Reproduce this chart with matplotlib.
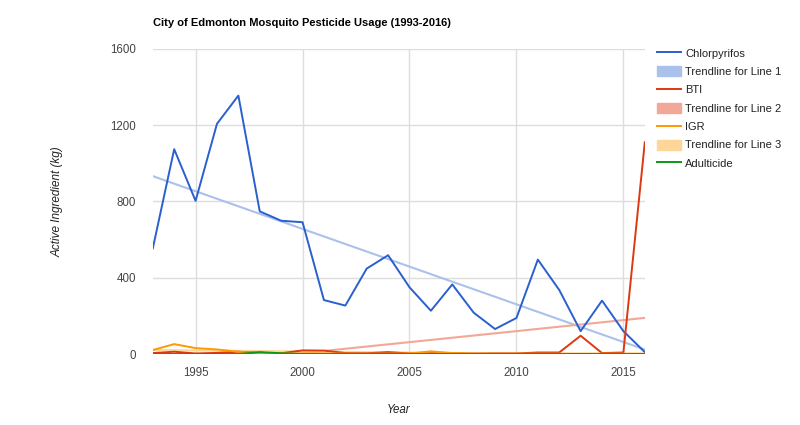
import matplotlib.pyplot as plt
import matplotlib.lines as mlines
import matplotlib.patches as mpatches
import numpy as np

plt.rcParams['font.family'] = ['Liberation Sans', 'DejaVu Sans']

# Data (kg of active ingredient per year)
years = list(range(1993, 2017))
chlorpyrifos = [554, 1074, 803, 1207, 1355, 748, 699, 691, 283, 254, 448, 518,
                350, 227, 365, 217, 131, 189, 495, 336, 120, 280, 120, 10]
bti = [5, 12, 3, 6, 12, 6, 4, 19, 18, 5, 4, 10,
       3, 4, 3, 2, 3, 3, 8, 8, 96, 5, 8, 1110]
igr = [21, 52, 31, 24, 12, 5, 3, 3, 3, 2, 2, 2,
       3, 14, 5, 2, 2, 2, 2, 2, 2, 2, 2, 2]
adulticide = [0, 0, 0, 0, 0, 10, 4, 0, 0, 0, 0, 0,
              0, 0, 0, 0, 0, 0, 0, 0, 0, 0, 0, 0]

series_names = ['Chlorpyrifos', 'BTI', 'IGR', 'Adulticide']
line_colors = ['#2a5fcf', '#dc3912', '#ff9900', '#109618']
trend_colors = ['#aac1ec', '#f1a896', '#ffd69a']
yticks = [0, 400, 800, 1200, 1600]
xticks = [1995, 2000, 2005, 2010, 2015]

fig = plt.figure(figsize=(8, 4.25), dpi=100)
ax = fig.add_axes([0.191, 0.167, 0.615, 0.718])

x = np.array(years)
all_series = [chlorpyrifos, bti, igr, adulticide]

# linear trendlines for the first three series
for vals, c in zip(all_series[:3], trend_colors):
    k, b = np.polyfit(x, vals, 1)
    ax.plot(x, k * x + b, color=c, lw=1.5, zorder=2)

for vals, c in zip(all_series, line_colors):
    ax.plot(x, vals, color=c, lw=1.4, zorder=3)

ax.set_xlim(1993, 2016)
ax.set_ylim(0, 1600)
ax.set_xticks(xticks)
ax.set_yticks(yticks)
ax.grid(True, color='#dddddd', lw=1)
ax.set_axisbelow(True)
ax.axhline(0, color='#333333', lw=1, zorder=1)
for s in ax.spines.values():
    s.set_visible(False)
ax.tick_params(length=0, labelsize=8.3, labelcolor='#444444')
ax.tick_params(axis='x', pad=9)
ax.tick_params(axis='y', pad=12)

ax.set_xlabel('Year', fontsize=8.3, style='italic', color='#222222', va='center')
ax.xaxis.set_label_coords(0.5, -(410 - 354) / 305)
ax.set_ylabel('Active Ingredient (kg)', fontsize=8.5, style='italic', color='#222222', va='center')
ax.yaxis.set_label_coords((58 - 153) / 492, 0.5)

fig.text(153 / 800, 1 - 23 / 425, 'City of Edmonton Mosquito Pesticide Usage (1993-2016)',
         fontsize=8.0, fontweight='bold', color='#000000', va='center', ha='left')

handles = [
    mlines.Line2D([], [], color=line_colors[0], lw=1.4),
    mpatches.Patch(color=trend_colors[0]),
    mlines.Line2D([], [], color=line_colors[1], lw=1.4),
    mpatches.Patch(color=trend_colors[1]),
    mlines.Line2D([], [], color=line_colors[2], lw=1.4),
    mpatches.Patch(color=trend_colors[2]),
    mlines.Line2D([], [], color=line_colors[3], lw=1.4),
]
labels = ['Chlorpyrifos', 'Trendline for Line 1', 'BTI', 'Trendline for Line 2',
          'IGR', 'Trendline for Line 3', 'Adulticide']
fig.legend(handles, labels, loc='upper left', bbox_to_anchor=(657 / 800, 1 - 48 / 425),
           frameon=False, fontsize=8.0, labelcolor='#222222', borderpad=0, borderaxespad=0,
           handlelength=2.2, handleheight=1.0, handletextpad=0.35, labelspacing=0.68)

fig.savefig('out.png', dpi=100)
